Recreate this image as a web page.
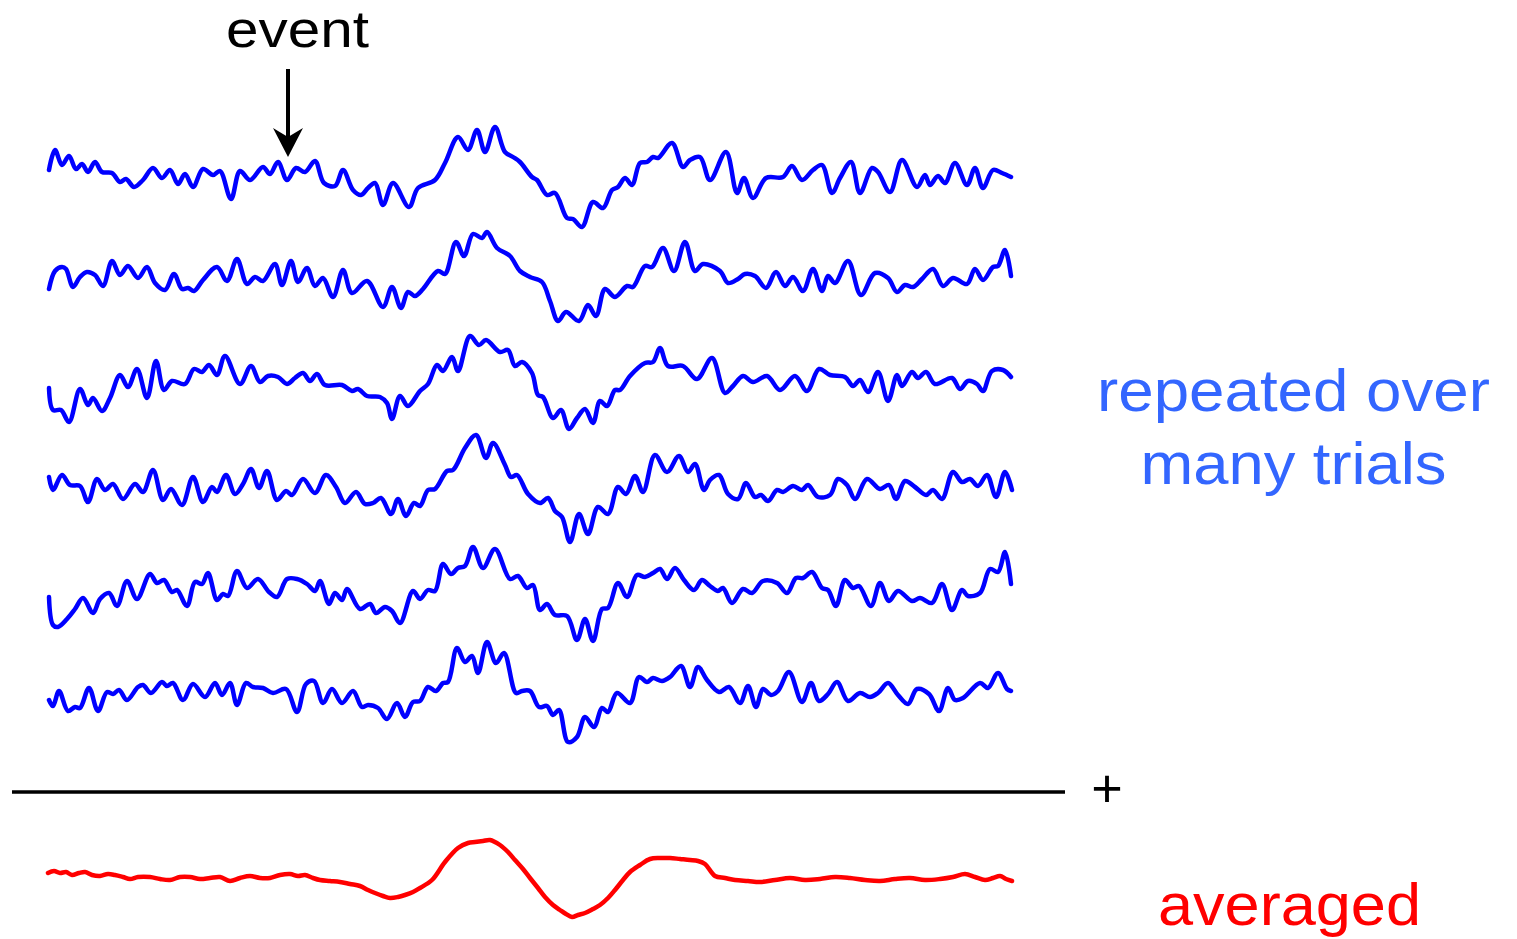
<!DOCTYPE html>
<html>
<head>
<meta charset="utf-8">
<script src="https://cdn.jsdelivr.net/npm/d3@7"></script>
<style>
  body { margin: 0; background: #fff; }
  text { font-family: "Liberation Sans", Arial, sans-serif; }
</style>
</head>
<body>
<script>
// time in ms relative to the event, amplitude in arbitrary units (positive up)
var trial1 = [[-239,5],[-233,25],[-226,10],[-219,19],[-212,6],[-206,11],[-200,3],[-193,13],[-186,3],[-176,2],[-168,-7],[-162,-4],[-154,-12],[-145,-5],[-135,7],[-126,-3],[-118,5],[-110,-9],[-103,1],[-95,-12],[-85,6],[-75,0],[-68,4],[-57,-24],[-48,4],[-38,-5],[-25,8],[-18,1],[-10,13],[-1,-5],[8,7],[17,3],[27,14],[36,-8],[47,-11],[55,5],[65,-15],[73,-20],[80,-13],[87,-8],[95,-30],[105,-8],[121,-32],[130,-13],[147,-5],[157,12],[170,38],[180,25],[189,45],[197,23],[207,48],[217,23],[225,18],[232,13],[244,-2],[249,-5],[259,-20],[267,-18],[279,-43],[285,-44],[294,-52],[305,-27],[315,-33],[324,-15],[330,-12],[337,-3],[344,-10],[352,12],[359,13],[365,18],[370,17],[384,32],[395,8],[402,15],[412,18],[422,-5],[438,23],[449,-18],[456,-3],[465,-23],[478,-3],[495,-2],[504,9],[514,-5],[525,5],[534,10],[544,-18],[552,-3],[563,13],[572,-18],[584,7],[590,3],[602,-17],[614,15],[629,-12],[637,0],[642,-10],[650,-1],[657,-8],[667,12],[679,-10],[687,7],[695,-13],[705,5],[714,2],[723,-2]];

var trial2 = [[-239,-10],[-233,8],[-226,12],[-222,10],[-215,-8],[-208,2],[-201,7],[-193,4],[-185,-7],[-176,18],[-168,4],[-160,13],[-150,1],[-141,12],[-133,-4],[-123,-11],[-114,5],[-106,-10],[-100,-9],[-94,-12],[-85,-1],[-71,12],[-61,-2],[-51,20],[-41,-5],[-33,2],[-25,-2],[-13,15],[-6,-6],[3,18],[10,-3],[19,11],[27,-7],[35,1],[45,-18],[55,9],[64,-14],[79,-2],[95,-28],[104,-8],[113,-29],[120,-13],[127,-17],[135,-10],[150,8],[157,5],[168,37],[176,23],[185,45],[194,41],[199,47],[209,31],[222,23],[232,8],[242,2],[254,-3],[262,-22],[270,-42],[278,-33],[291,-42],[300,-26],[308,-37],[317,-10],[327,-18],[339,-7],[345,-8],[357,13],[364,12],[375,31],[386,8],[397,37],[407,8],[415,15],[432,8],[440,-4],[450,0],[457,5],[467,3],[478,-9],[488,7],[497,-7],[505,2],[515,-12],[525,10],[534,-12],[540,3],[547,-4],[560,18],[573,-16],[587,6],[600,1],[609,-13],[617,-6],[625,-8],[634,0],[645,10],[655,-7],[665,1],[679,-5],[687,10],[695,-1],[705,12],[710,13],[717,29],[723,3]];

var trial3 = [[-239,-5],[-235,-27],[-227,-27],[-219,-39],[-208,-6],[-200,-22],[-195,-15],[-186,-28],[-178,-15],[-168,8],[-160,-4],[-151,14],[-141,-15],[-132,22],[-124,-7],[-116,2],[-103,-1],[-94,14],[-86,11],[-79,18],[-71,8],[-63,27],[-48,-1],[-37,17],[-28,1],[-20,7],[-10,6],[-1,-1],[7,5],[15,10],[22,2],[29,9],[37,-2],[54,-2],[64,-8],[70,-6],[79,-13],[92,-14],[99,-20],[104,-36],[112,-13],[120,-23],[132,-8],[140,-1],[149,18],[155,12],[164,26],[170,12],[182,47],[191,38],[198,43],[212,31],[220,33],[227,17],[234,21],[244,10],[250,-12],[255,-14],[265,-35],[273,-27],[281,-46],[289,-35],[297,-26],[305,-40],[312,-18],[319,-23],[327,-7],[332,-7],[342,7],[357,20],[365,21],[372,35],[380,17],[395,17],[409,4],[424,25],[437,-10],[445,-3],[455,7],[465,1],[479,7],[492,-7],[507,7],[519,-8],[531,14],[542,8],[557,6],[565,-3],[572,3],[580,-9],[590,11],[600,-18],[609,8],[614,-3],[624,11],[630,5],[638,11],[647,-1],[664,5],[672,-6],[680,2],[689,-1],[695,-8],[704,12],[715,13],[723,6]];

var trial4 = [[-239,10],[-235,-3],[-226,12],[-218,2],[-208,1],[-200,-15],[-191,8],[-183,-3],[-175,3],[-165,-12],[-153,3],[-145,-5],[-135,17],[-125,-13],[-117,-2],[-106,-18],[-95,10],[-85,-15],[-76,0],[-71,-5],[-62,12],[-53,-7],[-45,3],[-37,18],[-29,-1],[-21,16],[-11,-13],[-2,-4],[4,-8],[15,8],[27,-6],[38,12],[48,0],[57,-16],[68,-5],[77,-17],[85,-16],[93,-11],[103,-27],[110,-12],[118,-29],[126,-16],[132,-19],[140,-3],[147,-2],[159,16],[165,17],[177,39],[188,52],[198,29],[205,44],[217,22],[223,10],[229,12],[240,-7],[252,-16],[260,-11],[267,-24],[274,-30],[282,-55],[291,-27],[300,-47],[310,-20],[320,-27],[330,0],[338,-7],[347,11],[355,-5],[367,32],[379,15],[391,31],[400,15],[407,23],[416,-3],[422,7],[431,12],[440,-7],[450,-12],[458,4],[467,-10],[473,-8],[480,-14],[489,-3],[495,-5],[505,1],[514,-3],[520,2],[530,-10],[542,-8],[550,8],[559,2],[567,-12],[579,8],[592,-2],[601,2],[608,-12],[617,6],[627,0],[638,-8],[645,-3],[654,-12],[665,15],[674,5],[682,8],[690,1],[699,12],[708,-10],[717,15],[724,-3]];

var trial5 = [[-239,-6],[-235,-34],[-230,-36],[-221,-28],[-213,-18],[-205,-7],[-195,-22],[-188,-8],[-179,-2],[-171,-15],[-161,10],[-151,-8],[-138,17],[-131,8],[-124,11],[-116,-1],[-111,1],[-101,-15],[-93,9],[-86,7],[-80,18],[-71,-9],[-65,-3],[-60,-5],[-51,20],[-41,3],[-30,12],[-19,-1],[-11,-6],[-1,12],[9,12],[19,7],[27,0],[32,10],[41,-13],[47,-2],[54,-9],[59,2],[72,-18],[82,-13],[88,-22],[97,-16],[104,-20],[112,-32],[125,0],[132,-8],[140,1],[147,0],[155,27],[163,17],[170,23],[177,25],[185,44],[195,23],[207,42],[222,12],[230,15],[239,3],[245,6],[252,-19],[259,-13],[267,-24],[279,-25],[289,-49],[297,-28],[305,-50],[314,-18],[320,-17],[330,8],[339,-6],[349,16],[357,14],[365,18],[372,22],[379,12],[387,23],[396,11],[406,1],[414,11],[422,5],[430,0],[435,3],[444,-12],[455,2],[464,-2],[475,10],[489,8],[499,-2],[508,13],[515,13],[524,19],[534,3],[540,1],[548,-15],[557,11],[565,3],[571,5],[583,-15],[592,8],[601,-10],[610,0],[624,-10],[632,-7],[644,-12],[654,7],[664,-19],[674,1],[680,-5],[692,-2],[702,22],[710,19],[717,39],[723,7]];

var trial6 = [[-239,-5],[-235,-11],[-229,4],[-220,-16],[-213,-12],[-208,-13],[-199,7],[-190,-16],[-181,3],[-175,1],[-169,5],[-161,-5],[-150,8],[-145,10],[-137,2],[-126,13],[-121,9],[-115,12],[-105,-5],[-95,11],[-83,-2],[-73,12],[-66,0],[-58,12],[-51,-10],[-42,12],[-35,8],[-25,7],[-15,2],[-2,6],[9,-17],[18,11],[26,14],[35,-8],[44,6],[54,-8],[65,4],[74,-12],[80,-10],[90,-13],[99,-24],[109,-8],[117,-22],[125,-7],[132,-6],[140,8],[148,4],[155,12],[160,13],[169,47],[177,33],[184,39],[190,22],[199,53],[208,32],[216,42],[228,2],[234,4],[242,4],[251,-12],[259,-11],[265,-20],[271,-15],[280,-47],[289,-42],[297,-22],[306,-32],[314,-13],[320,-17],[329,2],[342,-8],[351,18],[359,13],[365,17],[374,14],[382,18],[393,29],[402,8],[410,28],[419,15],[431,3],[441,8],[452,-8],[460,9],[468,-12],[475,6],[483,0],[490,4],[501,23],[514,-7],[523,12],[531,-6],[540,1],[549,13],[560,-6],[572,2],[582,-2],[590,2],[600,12],[610,0],[620,-9],[629,6],[641,1],[651,-16],[660,7],[667,-5],[675,-3],[692,12],[700,7],[710,22],[719,6],[723,4]];

var averaged = [[-240,5],[-234,7],[-228,5],[-222,6],[-216,3],[-209,5],[-203,6],[-196,3],[-188,2],[-180,4],[-173,3],[-165,1],[-158,-1],[-150,1],[-138,1],[-128,-1],[-118,-2],[-108,1],[-98,1],[-88,-1],[-78,0],[-68,1],[-58,-3],[-48,0],[-38,2],[-28,0],[-18,0],[-8,3],[2,4],[10,2],[17,3],[25,0],[32,-2],[42,-3],[52,-4],[62,-6],[72,-8],[80,-12],[87,-15],[95,-18],[102,-20],[110,-19],[117,-17],[125,-14],[132,-10],[144,-2],[157,16],[170,30],[180,35],[187,36],[195,37],[202,38],[212,33],[220,26],[227,18],[235,9],[242,0],[250,-10],[257,-19],[265,-27],[272,-32],[278,-36],[284,-39],[290,-37],[297,-35],[305,-31],[312,-27],[320,-20],[327,-12],[335,-2],[342,6],[352,13],[362,19],[372,20],[382,20],[392,19],[402,18],[410,17],[417,14],[427,2],[437,0],[447,-2],[460,-3],[472,-4],[487,-2],[502,0],[517,-2],[532,-1],[547,1],[562,0],[577,-2],[592,-3],[607,-1],[622,0],[637,-2],[652,-1],[665,1],[677,4],[687,1],[697,-2],[705,0],[712,2],[718,-1],[724,-3]];

var trials = [trial1, trial2, trial3, trial4, trial5, trial6];
var trialLabels = ['repeated over', 'many trials'];
var averageLabel = 'averaged';
var eventLabel = 'event';
var eventTime = 0;

var w = 1517;
var h = 939;

var svg = d3
  .select('body')
  .append('svg')
  .attr('width', w)
  .attr('height', h);

var xScale = d3
  .scaleLinear()
  .domain([-240, 724])
  .range([48, 1012]);

// one row per trial
var rowScale = d3
  .scalePoint()
  .domain(d3.range(trials.length))
  .range([175, 695]);

var ampScale = d3
  .scaleLinear()
  .domain([-50, 50])
  .range([50, -50]);

var line = d3
  .line()
  .x(d => xScale(d[0]))
  .y(d => ampScale(d[1]))
  .curve(d3.curveCatmullRom.alpha(0.5));

svg
  .append('g')
  .attr('class', 'trials')
  .selectAll('path')
  .data(trials)
  .enter()
  .append('path')
  .attr('transform', (d, i) => `translate(0, ${rowScale(i)})`)
  .attr('d', line)
  .attr('fill', 'none')
  .attr('stroke', '#0000ff')
  .attr('stroke-width', 4.5)
  .attr('stroke-linejoin', 'round')
  .attr('stroke-linecap', 'round');

// sum line
svg
  .append('line')
  .attr('x1', 12)
  .attr('x2', 1065)
  .attr('y1', 792)
  .attr('y2', 792)
  .attr('stroke', '#000')
  .attr('stroke-width', 3.5);

svg
  .append('text')
  .attr('x', 1107)
  .attr('y', 807)
  .attr('text-anchor', 'middle')
  .attr('font-size', 54)
  .text('+');

svg
  .append('path')
  .datum(averaged)
  .attr('transform', 'translate(0, 878)')
  .attr('d', line)
  .attr('fill', 'none')
  .attr('stroke', '#ff0000')
  .attr('stroke-width', 4.5)
  .attr('stroke-linejoin', 'round')
  .attr('stroke-linecap', 'round');

// event marker
var ex = xScale(eventTime);
svg
  .append('text')
  .attr('x', ex + 9.5)
  .attr('y', 47)
  .attr('text-anchor', 'middle')
  .attr('font-size', 52)
  .attr('textLength', 143)
  .attr('lengthAdjust', 'spacingAndGlyphs')
  .text(eventLabel);

svg
  .append('line')
  .attr('x1', ex)
  .attr('x2', ex)
  .attr('y1', 69)
  .attr('y2', 140)
  .attr('stroke', '#000')
  .attr('stroke-width', 4);

svg
  .append('path')
  .attr('d', `M${ex},157 L${ex - 15},128 L${ex},137 L${ex + 15},128 Z`)
  .attr('fill', '#000');

var labelWidths = [393, 306];

svg
  .append('g')
  .selectAll('text')
  .data(trialLabels)
  .enter()
  .append('text')
  .attr('x', 1293.5)
  .attr('y', (d, i) => 411 + i * 73)
  .attr('text-anchor', 'middle')
  .attr('font-size', 59)
  .attr('textLength', (d, i) => labelWidths[i])
  .attr('lengthAdjust', 'spacingAndGlyphs')
  .attr('fill', '#3366ff')
  .text(d => d);

svg
  .append('text')
  .attr('x', 1289.5)
  .attr('y', 925)
  .attr('text-anchor', 'middle')
  .attr('font-size', 59)
  .attr('textLength', 263)
  .attr('lengthAdjust', 'spacingAndGlyphs')
  .attr('fill', '#ff0000')
  .text(averageLabel);
</script>
</body>
</html>
